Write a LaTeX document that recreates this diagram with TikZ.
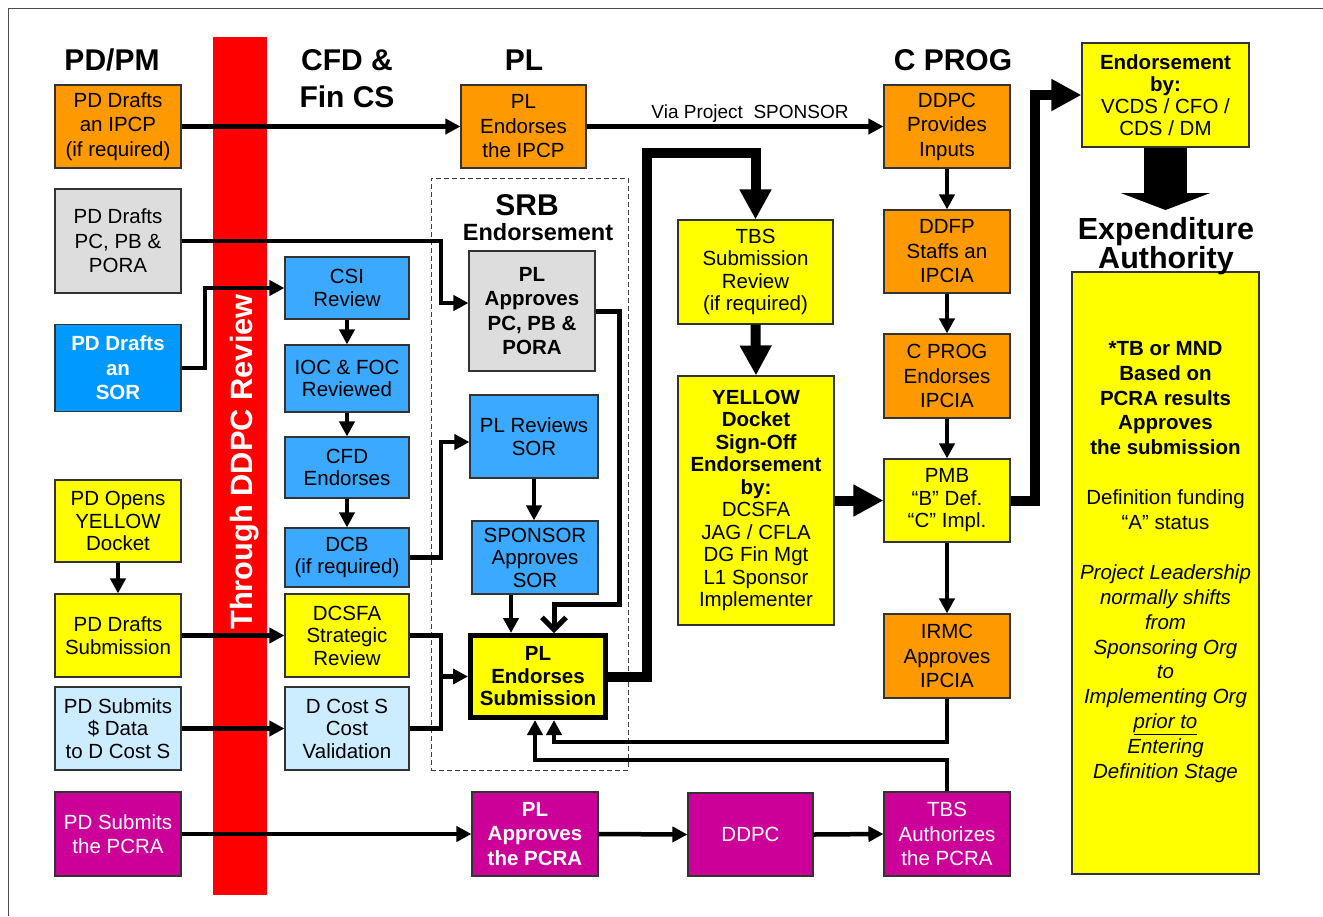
\documentclass[tikz,border=0pt]{standalone}
\usepackage{fontspec}
\setmainfont{Liberation Sans}
\usetikzlibrary{arrows.meta}
\definecolor{cOrange}{HTML}{FF9900}
\definecolor{cGray}{HTML}{DDDDDD}
\definecolor{cBlueD}{HTML}{0099FF}
\definecolor{cBlue}{HTML}{3AA9FF}
\definecolor{cYellow}{HTML}{FFFF00}
\definecolor{cLBlue}{HTML}{CCECFF}
\definecolor{cMag}{HTML}{CC0099}
\definecolor{cRed}{HTML}{FF0000}
\begin{document}
\begin{tikzpicture}[x=1pt,y=-1pt,
 box/.style={draw=black!80, line width=1.1pt, align=center, inner sep=0pt, font=\fontsize{20.5}{24.5}\selectfont},
 sz/.style 2 args={minimum width=#1pt, minimum height=#2pt},
 tight/.style={font=\fontsize{20.5}{22.5}\selectfont},
 tightb/.style={font=\fontsize{20.5}{22.5}\selectfont\bfseries},
 boldf/.style={font=\fontsize{20.5}{24.5}\selectfont\bfseries},
 conn/.style={line width=4.5pt, -{Triangle[length=15pt,width=15pt]}},
 plainline/.style={line width=4.5pt},
 big/.style={line width=10pt, -{Triangle[length=30pt,width=30pt]}},
 heading/.style={font=\fontsize{30}{30}\selectfont\bfseries, inner sep=0pt, anchor=base},
]
\useasboundingbox (0,0) rectangle (1323,916);
\fill[white] (0,0) rectangle (1323,916);
\draw[line width=1pt, black!70] (8,916) -- (8,8) -- (1323,8);

% SRB frame and red bar
\node[draw=black!75, line width=1pt, dash pattern=on 5pt off 3pt, sz={197}{592}] (srb) at (529.5,474) {};
\node[fill=cRed, sz={54}{858}, inner sep=0pt] (bar) at (240,466) {};
\node[rotate=90, anchor=base, text=white, font=\fontsize{30.8}{30}\selectfont\bfseries, inner sep=0pt] (bartxt) at (252,462) {Through DDPC Review};

% headings
\node[heading] (hpd) at (112,70) {PD/PM};
\node[heading] (hcfd1) at (347,70) {CFD \&};
\node[heading] (hcfd2) at (347,107) {Fin CS};
\node[heading] (hpl) at (524,70) {PL};
\node[heading] (hcp) at (953,70) {C PROG};
\node[heading] (hsrb) at (527,215) {SRB};
\node[heading, font=\fontsize{23.5}{24}\selectfont\bfseries] (hsrb2) at (538,240) {Endorsement};
\node[heading, font=\fontsize{30.5}{30}\selectfont\bfseries] (hexp1) at (1166,239) {Expenditure};

% PD/PM column
\node[box, fill=cOrange, sz={126}{83}] (ipcp) at (118,126.5) {PD Drafts\\an IPCP\\(if required)};
\node[box, fill=cGray, sz={126}{104}] (pcpb) at (118,241) {PD Drafts\\PC, PB \&\\PORA};
\node[box, fill=cBlueD, sz={126}{87}, text=white, boldf] (sor) at (118,368) {PD Drafts\\an\\SOR};
\node[box, fill=cYellow, sz={126}{82}, tight] (opens) at (118,521) {PD Opens\\YELLOW\\Docket};
\node[box, fill=cYellow, sz={126}{83}, tight] (subm) at (118,635.5) {PD Drafts\\Submission};
\node[box, fill=cLBlue, sz={126}{83}, tight] (data) at (118,728.5) {PD Submits\\\$ Data\\to D Cost S};
\node[box, fill=cMag, sz={126}{84}, text=white] (pcra) at (118,834) {PD Submits\\the PCRA};

% CFD column
\node[box, fill=cBlue, sz={124}{62}, tight] (csi) at (347,288) {CSI\\Review};
\node[box, fill=cBlue, sz={124}{67}, tight] (ioc) at (347,378.5) {IOC \& FOC\\Reviewed};
\node[box, fill=cBlue, sz={124}{61}, tight] (cfd) at (347,467.5) {CFD\\Endorses};
\node[box, fill=cBlue, sz={124}{59}, tight] (dcb) at (347,557.5) {DCB\\(if required)};
\node[box, fill=cYellow, sz={124}{83}, tight] (dcsfa) at (347,635.5) {DCSFA\\Strategic\\Review};
\node[box, fill=cLBlue, sz={124}{83}, tight] (dcost) at (347,728.5) {D Cost S\\Cost\\Validation};

% PL column
\node[box, fill=cOrange, sz={125}{83}] (plipcp) at (523.5,126.5) {PL\\Endorses\\the IPCP};
\node[box, fill=cGray, sz={126}{120}, boldf] (plpc) at (532,311) {PL\\Approves\\PC, PB \&\\PORA};
\node[box, fill=cBlue, sz={128}{83}, tight] (plsor) at (534,436.5) {PL Reviews\\SOR};
\node[box, fill=cBlue, sz={126}{73}, tight] (spsor) at (535,557.5) {SPONSOR\\Approves\\SOR};
\node[box, fill=cYellow, draw=black, line width=5pt, sz={135}{82}, tightb] (plsub) at (538,676.5) {PL\\Endorses\\Submission};
\node[box, fill=cMag, sz={126}{84}, text=white, boldf] (plpcra) at (535,834) {PL\\Approves\\the PCRA};

% middle column
\node[box, fill=cYellow, sz={155}{104}, tight] (tbs) at (755.5,272) {TBS\\Submission\\Review\\(if required)};
\node[box, fill=cYellow, sz={156}{249}, tight] (ydock) at (756,500.5) {\textbf{YELLOW}\\\textbf{Docket}\\\textbf{Sign-Off}\\\textbf{Endorsement}\\\textbf{by:}\\DCSFA\\JAG / CFLA\\DG Fin Mgt\\L1 Sponsor\\Implementer};
\node[box, fill=cMag, sz={125}{83}, text=white] (ddpc) at (750.5,834.5) {DDPC};

% C PROG column
\node[box, fill=cOrange, sz={126}{83}] (ddpcin) at (947,126.5) {DDPC\\Provides\\Inputs};
\node[box, fill=cOrange, sz={126}{83}] (ddfp) at (947,251.5) {DDFP\\Staffs an\\IPCIA};
\node[box, fill=cOrange, sz={126}{84}] (cprog) at (947,376) {C PROG\\Endorses\\IPCIA};
\node[box, fill=cYellow, sz={126}{83}, tight] (pmb) at (947,500.5) {PMB\\“B” Def.\\“C” Impl.};
\node[box, fill=cOrange, sz={126}{84}] (irmc) at (947,656) {IRMC\\Approves\\IPCIA};
\node[box, fill=cMag, sz={126}{84}, text=white] (tbsauth) at (947,834) {TBS\\Authorizes\\the PCRA};

% right column
\node[box, fill=cYellow, sz={167}{104}, font=\fontsize{20.5}{22}\selectfont] (endby) at (1165.5,95) {\textbf{Endorsement}\\\textbf{by:}\\VCDS / CFO /\\CDS / DM};
\node[box, fill=cYellow, sz={187}{602}] (ea) at (1165.5,573) {};
\node[align=center, inner sep=0pt, font=\fontsize{20.5}{24.9}\selectfont] (eatext) at (1165.5,562) {\textbf{*TB or MND}\\\textbf{Based on}\\\textbf{PCRA results}\\\textbf{Approves}\\\textbf{the submission}\\[24.9pt]Definition funding\\“A” status\\[24.9pt]\textit{Project Leadership}\\\textit{normally shifts}\\\textit{from}\\\textit{Sponsoring Org}\\\textit{to}\\\textit{Implementing Org}\\\textit{\underline{prior to}}\\\textit{Entering}\\\textit{Definition Stage}};
\node[heading, font=\fontsize{30.5}{30}\selectfont\bfseries] (hexp2) at (1166,268) {Authority};

% connectors
\draw[conn] (ipcp.east) -- (plipcp.west);
\draw[conn] (plipcp.east) -- (ddpcin.west);
\node[anchor=base, font=\fontsize{19}{19}\selectfont, inner sep=0pt] (via) at (750,118) {Via Project\ \ SPONSOR};
\draw[conn] (pcpb.east) -| (441,303) -- ([yshift=8pt]plpc.west);
\draw[conn] (sor.east) -| (205,288) -- (csi.west);
\draw[conn] (csi.south) -- (ioc.north);
\draw[conn] (ioc.south) -- (cfd.north);
\draw[conn] (cfd.south) -- (dcb.north);
\draw[conn] (dcb.east) -| (441,442) -- ([yshift=-5.5pt]plsor.west);
\draw[conn] (plsor.south) -- (plsor.south |- spsor.north);
\draw[conn] ([xshift=-24pt]spsor.south) -- ([xshift=-27pt]plsub.north);
\draw[line width=5pt, -{Straight Barb[length=12pt,width=24pt]}] (plpc.east) -| (619,604) -| ([xshift=16pt]plsub.north);
\draw[conn] (opens.south) -- (subm.north);
\draw[conn] (subm.east) -- (dcsfa.west);
\draw[conn] (data.east) -- (dcost.west);
\coordinate (mrg) at (441,676.5);
\draw[plainline] (dcsfa.east) -| (mrg) |- (dcost.east);
\draw[conn] (mrg) -- (plsub.west);
\draw[conn] (ddpcin.south) -- (ddfp.north);
\draw[conn] (ddfp.south) -- (cprog.north);
\draw[conn] (cprog.south) -- (pmb.north);
\draw[conn] (pmb.south) -- (irmc.north);
\draw[conn] (irmc.south) -- (947,742) -| ([xshift=16pt]plsub.south);
\draw[conn] (tbsauth.north) -- (947,760) -| ([xshift=-3pt]plsub.south);
\draw[conn] (pcra.east) -- (plpcra.west);
\draw[conn] (plpcra.east) -- (ddpc.west);
\draw[conn] (ddpc.east) -- (tbsauth.west);

% thick connectors
\draw[big] (plsub.east) -| (647,153) -| (tbs.north);
\draw[big] (tbs.south) -- (ydock.north);
\draw[big] (ydock.east) -- (pmb.west);
\draw[big] (pmb.east) -| (1035,95) -- (endby.west);
\coordinate (eatip) at (1165.5,210);
\draw[line width=43pt, -{Triangle[length=17pt,width=89pt]}] (endby.south) -- (eatip);
\end{tikzpicture}
\end{document}
